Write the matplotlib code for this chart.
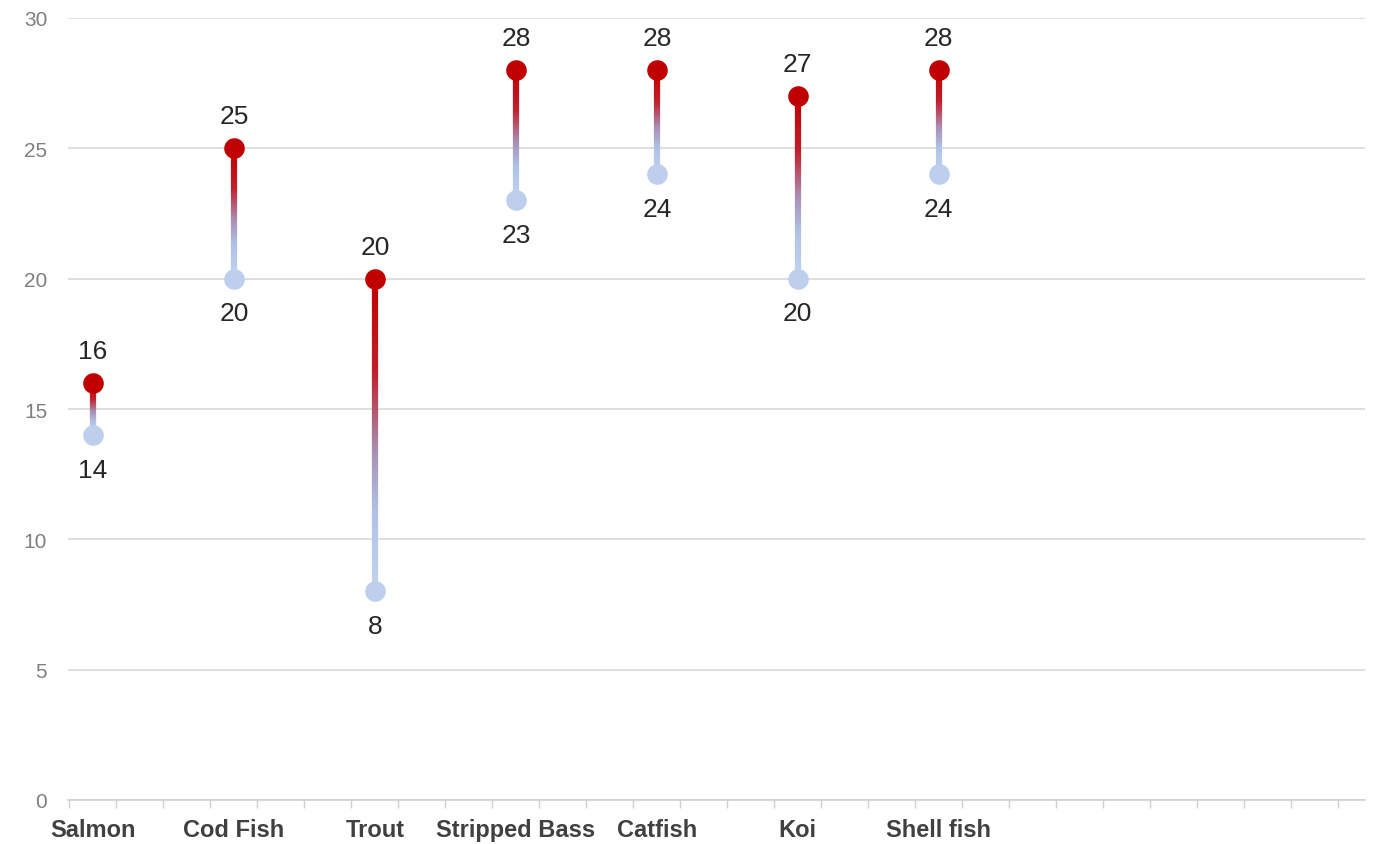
import numpy as np
import matplotlib
matplotlib.use("Agg")
import matplotlib.pyplot as plt
from matplotlib.collections import LineCollection
from matplotlib.colors import LinearSegmentedColormap

# fish species and their high / low values
categories = ["Salmon", "Cod Fish", "Trout", "Stripped Bass", "Catfish", "Koi", "Shell fish"]
high_vals = [16, 25, 20, 28, 28, 27, 28]
low_vals = [14, 20, 8, 23, 24, 20, 24]
y_ticks = [0, 5, 10, 15, 20, 25, 30]

plt.rcParams["font.family"] = ["Liberation Sans", "DejaVu Sans"]

RED = "#C00000"
BLUE = "#BDCFEC"
# gradient from light blue (bottom) to red (top)
grad = LinearSegmentedColormap.from_list(
    "fish_grad",
    [(0.0, "#C3D3EE"), (0.25, "#AEC3E8"), (0.45, "#A98FB4"), (0.7, "#C0202C"), (1.0, "#C00000")])

fig = plt.figure(figsize=(13.78, 8.45), dpi=100)
ax = fig.add_axes([68 / 1378, 1 - 801 / 845, (1365 - 68) / 1378, (801 - 19) / 845])

# categories sit on every third slot of the category axis
xs = np.arange(len(categories)) * 3
n_slots = 28


def gradient_stem(ax, x, lo, hi):
    ys = np.linspace(lo, hi, 120)
    pts = np.column_stack([np.full_like(ys, x, dtype=float), ys]).reshape(-1, 1, 2)
    segs = np.concatenate([pts[:-1], pts[1:]], axis=1)
    lc = LineCollection(segs, cmap=grad, linewidths=4.5, capstyle="butt", zorder=2)
    lc.set_array(np.linspace(0, 1, len(segs)))
    lc.set_clim(0, 1)
    ax.add_collection(lc)


for x, lo, hi in zip(xs, low_vals, high_vals):
    gradient_stem(ax, x, lo, hi)

ax.scatter(xs, low_vals, s=220, color=BLUE, zorder=3, linewidths=0)
ax.scatter(xs, high_vals, s=220, color=RED, zorder=3, linewidths=0)

for x, lo, hi in zip(xs, low_vals, high_vals):
    ax.annotate(str(hi), (x, hi), xytext=(0, 23), textcoords="offset points",
                ha="center", va="center", fontsize=19, color="#262626")
    ax.annotate(str(lo), (x, lo), xytext=(0, -25), textcoords="offset points",
                ha="center", va="center", fontsize=19, color="#262626")

ax.set_xlim(-0.53, 27.07)
ax.set_ylim(0, 30)
ax.set_yticks(y_ticks)
ax.set_xticks(xs)
ax.set_xticklabels(categories, fontsize=17, color="#404040", fontweight="bold")
ax.set_xticks(np.arange(-0.5, n_slots - 0.9, 1), minor=True)

ax.tick_params(axis="x", which="major", length=0, pad=13)
ax.tick_params(axis="x", which="minor", length=6, color="#D0D0D0", width=1)
ax.tick_params(axis="y", length=0, pad=15, labelsize=15, labelcolor="#7F7F7F")

ax.grid(axis="y", color="#D9D9D9", linewidth=1.2)
ax.set_axisbelow(True)
for side in ["top", "right", "left"]:
    ax.spines[side].set_visible(False)
ax.spines["bottom"].set_color("#D0D0D0")
ax.spines["bottom"].set_linewidth(1.2)

fig.savefig("out.png", dpi=100)
